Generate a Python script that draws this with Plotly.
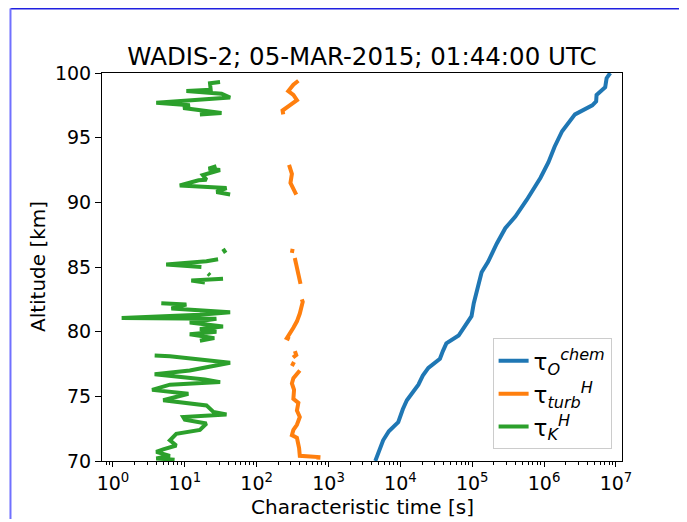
import plotly.graph_objects as go

# tau_O^chem (blue) -- altitude [km], time [s]
chem_alt = [70.0, 71.6, 72.3, 73.0, 74.0, 74.7, 75.9, 76.6, 77.2, 77.9, 78.5, 79.1,
            79.7, 80.5, 81.2, 82.2, 83.2, 84.6, 85.4, 86.8, 88.0, 88.9, 90.2, 91.0,
            91.9, 93.1, 94.3, 95.5, 96.8, 97.5, 97.8, 98.3, 98.9, 99.6, 100.0]
chem_time = [4470, 5750, 6900, 9330, 10800, 12300, 17800, 20500, 24500, 35500, 39000, 43600,
             64600, 80000, 97700, 105000, 115000, 135000, 166000, 219000, 288000, 398000, 575000, 700000,
             891000, 1150000, 1400000, 1780000, 2690000, 4680000, 5300000, 5370000, 7080000, 7410000, 8320000]

# tau_turb^H (orange), None marks gaps in the profile
turb_alt = [70.1, 70.3, 70.4, 71.0, 71.8, 72.0, 72.4, 72.8, 73.4, 73.9, 74.5, 74.8, 75.5, 76.0, 76.4, 76.7, 77.0, None,
            77.35, 77.65, None,
            78.0, 78.2, 78.5, None,
            79.4, 79.5, 80.3, 80.8, 81.4, 82.3, 82.5, None,
            83.7, 84.5, 85.7, None,
            86.1, 86.4, None,
            90.6, 91.1, 91.5, 92.2, 92.9, None,
            96.8, 97.1, 97.5, 97.9, 98.3, 98.6, 99.1, 99.4]
turb_time = [720, 724, 398, 389, 363, 309, 324, 363, 398, 363, 380, 324, 331, 309, 324, 363, 398, None,
             309, 330, None,
             320, 355, 340, None,
             288, 263, 324, 363, 398, 437, 425, None,
             407, 380, 339, None,
             309, 316, None,
             355, 324, 295, 309, 282, None,
             234, 229, 288, 363, 324, 275, 324, 380]

# tau_K^H (green), None marks gaps in the profile
k_alt = [70.1, 70.2, 70.4, 70.7, 70.9, 71.2, 71.6, 72.1, 72.4, 72.9, 73.2, 73.4, 73.6, 73.8, 74.3, 74.7,
         75.2, 75.5, 75.9, 76.1, 76.3, 76.7, 77.0, 77.6, 78.1, 78.15, None,
         79.3, 79.5, 79.8, 80.0, 80.2, 80.4, 80.7, 81.0, 81.05, 81.3, 81.5, 81.8, 82.1, 82.2, None,
         83.8, 83.95, 84.1, None,
         84.35, 84.5, None,
         85.0, 85.2, 85.45, 85.6, None,
         86.1, 86.4, None,
         90.6, 90.8, 91.1, 91.2, 91.3, 91.7, 91.75, 92.1, 92.5, 92.6, 92.8, None,
         96.8, 96.9, 97.3, 97.5, 97.7, 97.9, 98.1, 98.4, 98.6, 98.7, 99.2, 99.3]
k_time = [7.2, 4.0, 6.2, 4.0, 5.0, 7.6, 6.2, 7.6, 16.2, 20.0, 10.0, 9.5, 38.0, 25.0, 20.0, 5.0,
          11.2, 3.5, 6.2, 31.0, 19.0, 3.8, 11.7, 42.7, 6.2, 3.8, None,
          16.2, 25.7, 11.7, 27.5, 16.2, 34.0, 11.7, 27.5, 1.32, 16.2, 42.7, 6.5, 10.5, 4.7, None,
          19.0, 12.3, 34.0, None,
          22.4, 21.0, None,
          17.0, 5.5, 20.0, 29.0, None,
          37.0, 34.0, None,
          42.7, 27.5, 38.0, 16.2, 8.5, 15.5, 20.0, 17.8, 30.9, 21.4, 27.5, None,
          16.2, 32.4, 9.5, 11.7, 4.0, 16.2, 42.7, 32.4, 10.5, 22.9, 22.4, 30.9]

x_tickvals = [1, 10, 100, 1e3, 1e4, 1e5, 1e6, 1e7]
x_ticktext = ["10<sup>%d</sup>" % i for i in range(8)]

FONT = "DejaVu Sans, Arial, sans-serif"

fig = go.Figure()
fig.add_trace(go.Scatter(x=chem_time, y=chem_alt, mode="lines", line=dict(color="#1f77b4", width=4),
                         name="τ<sub><i>O</i></sub><sup><i>chem</i></sup>"))
fig.add_trace(go.Scatter(x=turb_time, y=turb_alt, mode="lines", line=dict(color="#ff7f0e", width=4),
                         name="τ<sub><i>turb</i></sub><sup><i>H</i></sup>"))
fig.add_trace(go.Scatter(x=k_time, y=k_alt, mode="lines", line=dict(color="#2ca02c", width=4),
                         name="τ<sub><i>K</i></sub><sup><i>H</i></sup>"))

# page body adds an 8px offset, so the figure is drawn smaller than the window
fig.update_layout(
    width=671, height=511,
    margin=dict(l=94, r=57, t=65, b=58),
    paper_bgcolor="white", plot_bgcolor="white",
    font=dict(family=FONT, size=19, color="black"),
    title=dict(text="WADIS-2; 05-MAR-2015; 01:44:00 UTC", x=0.5, xref="paper",
               y=1 - 48 / 511, yanchor="middle", font=dict(size=24.5)),
    showlegend=True,
    legend=dict(x=0.98, xanchor="right", y=0.03, yanchor="bottom",
                bgcolor="rgba(255,255,255,0.8)", bordercolor="#cccccc", borderwidth=1,
                font=dict(size=23), tracegroupgap=2),
    shapes=[
        dict(type="line", xref="paper", yref="paper", x0=-0.176, x1=1.2, y0=1.166, y1=1.166,
             line=dict(color="#2020e0", width=2)),
        dict(type="line", xref="paper", yref="paper", x0=-0.176, x1=-0.176, y0=1.166, y1=-0.2,
             line=dict(color="#7070ff", width=2)),
    ],
    annotations=[
        dict(text="Characteristic time [s]", xref="paper", yref="paper", x=0.5, y=-0.118,
             xanchor="center", yanchor="middle", showarrow=False, font=dict(size=20)),
        dict(text="Altitude [km]", xref="paper", yref="paper", x=-0.123, y=0.5, textangle=-90,
             xanchor="center", yanchor="middle", showarrow=False, font=dict(size=20)),
    ],
)
fig.update_xaxes(
    type="log", range=[-0.153, 7.084], tickvals=x_tickvals, ticktext=x_ticktext, automargin=False,
    showgrid=False, zeroline=False, showline=True, linecolor="black", linewidth=1, mirror=True,
    ticks="outside", ticklen=5, tickcolor="black",
    minor=dict(ticks="outside", ticklen=3, tickcolor="black", dtick="D1", showgrid=False),
)
fig.update_yaxes(
    range=[70, 100], dtick=5, automargin=False, showgrid=False, zeroline=False, showline=True,
    linecolor="black", linewidth=1, mirror=True, ticks="outside", ticklen=6, tickcolor="black",
)

fig.write_html("out.html")
